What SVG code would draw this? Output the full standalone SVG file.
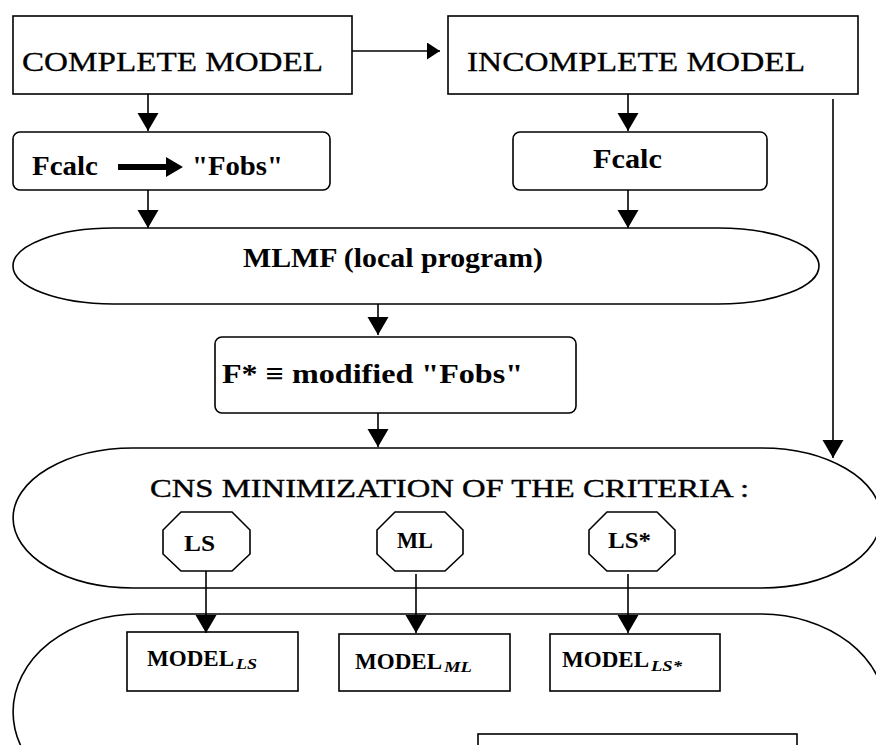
<svg xmlns="http://www.w3.org/2000/svg" width="876" height="745" viewBox="0 0 876 745">
<defs>
<marker id="ah" markerUnits="userSpaceOnUse" markerWidth="20" markerHeight="22" refX="18" refY="10.5" orient="auto">
<path d="M0,0 L18,10.5 L0,21 Z" fill="#000"/>
</marker>
<marker id="ahs" markerUnits="userSpaceOnUse" markerWidth="15" markerHeight="18" refX="13" refY="8.5" orient="auto">
<path d="M0,0 L13,8.5 L0,17 Z" fill="#000"/>
</marker>
</defs>
<style>
.s{fill:#fff;stroke:#000;stroke-width:1.6}
.c{fill:none;stroke:#000;stroke-width:1.6;marker-end:url(#ah)}
.t{font-family:"Liberation Serif","Times New Roman",serif;fill:#000}
.b{font-weight:bold}
.sub{font-family:"Liberation Serif","Times New Roman",serif;fill:#000;font-weight:bold;font-style:italic;font-size:15px}
</style>
<rect width="876" height="745" fill="#fff"/>

<g id="bottom-shape">
<path class="s" d="M138,614 L761,614 A125,98 0 0 1 761,810 L138,810 A125,98 0 0 1 138,614 Z"/>
</g>
<g id="cns">
<path class="s" d="M133,448 L761,448 A120,70 0 0 1 761,588 L133,588 A120,70 0 0 1 133,448 Z"/>
<text class="t" x="150" y="497" font-size="26" textLength="599" lengthAdjust="spacingAndGlyphs" stroke="#000" stroke-width="0.4">CNS MINIMIZATION OF THE CRITERIA :</text>
</g>
<g id="complete">
<rect class="s" x="13" y="16" width="339" height="78"/>
<text class="t" x="22" y="71" font-size="27" textLength="301" lengthAdjust="spacingAndGlyphs" stroke="#000" stroke-width="0.3">COMPLETE MODEL</text>
</g>
<g id="incomplete">
<rect class="s" x="448" y="16" width="410" height="78"/>
<text class="t" x="467" y="71" font-size="27" textLength="338" lengthAdjust="spacingAndGlyphs" stroke="#000" stroke-width="0.3">INCOMPLETE MODEL</text>
</g>
<g id="fcalc1">
<rect class="s" x="13" y="132" width="317" height="58" rx="7"/>
<text class="t b" x="32" y="175" font-size="28" textLength="66" lengthAdjust="spacingAndGlyphs">Fcalc</text>
<path d="M118,164 L166,164 L166,157 L183,167 L166,177 L166,170 L118,170 Z" fill="#000"/>
<text class="t b" x="192" y="175" font-size="28" textLength="91" lengthAdjust="spacingAndGlyphs">"Fobs"</text>
</g>
<g id="fcalc2">
<rect class="s" x="513" y="132" width="254" height="58" rx="7"/>
<text class="t b" x="593" y="168" font-size="28" textLength="69" lengthAdjust="spacingAndGlyphs">Fcalc</text>
</g>
<g id="mlmf">
<path class="s" d="M113,228 L718,228 A101,38 0 0 1 718,304 L113,304 A100,38 0 0 1 113,228 Z"/>
<text class="t b" x="243" y="267" font-size="27" textLength="300" lengthAdjust="spacingAndGlyphs">MLMF (local program)</text>
</g>
<g id="fstar">
<rect class="s" x="215" y="337" width="361" height="76" rx="7"/>
<text class="t b" x="222" y="383" font-size="28" textLength="301" lengthAdjust="spacingAndGlyphs">F* ≡ modified "Fobs"</text>
</g>
<g id="ls">
<polygon class="s" points="181,512 232,512 250,530 250,554 232,571 181,571 163,554 163,530"/>
<text class="t b" x="184" y="551" font-size="24" textLength="31" lengthAdjust="spacingAndGlyphs">LS</text>
</g>
<g id="ml">
<polygon class="s" points="395,512 445,512 463,530 463,554 445,571 395,571 377,554 377,530"/>
<text class="t b" x="397" y="548" font-size="24" textLength="36" lengthAdjust="spacingAndGlyphs">ML</text>
</g>
<g id="lsstar">
<polygon class="s" points="607,512 657,512 675,530 675,554 657,571 607,571 589,554 589,530"/>
<text class="t b" x="608" y="548" font-size="24" textLength="43" lengthAdjust="spacingAndGlyphs">LS*</text>
</g>
<g id="model-ls">
<rect class="s" x="127" y="632" width="171" height="59"/>
<text class="t b" x="147" y="666" font-size="24" textLength="87" lengthAdjust="spacingAndGlyphs">MODEL</text>
<text class="sub" x="236" y="669" textLength="21" lengthAdjust="spacingAndGlyphs">LS</text>
</g>
<g id="model-ml">
<rect class="s" x="339" y="634" width="171" height="57"/>
<text class="t b" x="355" y="669" font-size="24" textLength="87" lengthAdjust="spacingAndGlyphs">MODEL</text>
<text class="sub" x="444" y="672" textLength="28" lengthAdjust="spacingAndGlyphs">ML</text>
</g>
<g id="model-lsstar">
<rect class="s" x="550" y="634" width="170" height="57"/>
<text class="t b" x="562" y="667" font-size="24" textLength="87" lengthAdjust="spacingAndGlyphs">MODEL</text>
<text class="sub" x="651" y="671" textLength="31" lengthAdjust="spacingAndGlyphs">LS*</text>
</g>
<g id="bottom-box">
<rect class="s" x="478" y="734" width="319" height="40"/>
</g>

<g id="connectors">
<line class="c" x1="352" y1="51" x2="440" y2="51" style="marker-end:url(#ahs)"/>
<line class="c" x1="148" y1="94" x2="148" y2="131"/>
<line class="c" x1="628" y1="94" x2="628" y2="131"/>
<line class="c" x1="148" y1="190" x2="148" y2="228"/>
<line class="c" x1="628" y1="190" x2="628" y2="228"/>
<line class="c" x1="378" y1="304" x2="378" y2="335"/>
<line class="c" x1="378" y1="413" x2="378" y2="447"/>
<line class="c" x1="833" y1="99" x2="833" y2="458"/>
<line class="c" x1="206" y1="571" x2="206" y2="633"/>
<line class="c" x1="416" y1="574" x2="416" y2="633"/>
<line class="c" x1="628" y1="574" x2="628" y2="633"/>
</g>
</svg>
